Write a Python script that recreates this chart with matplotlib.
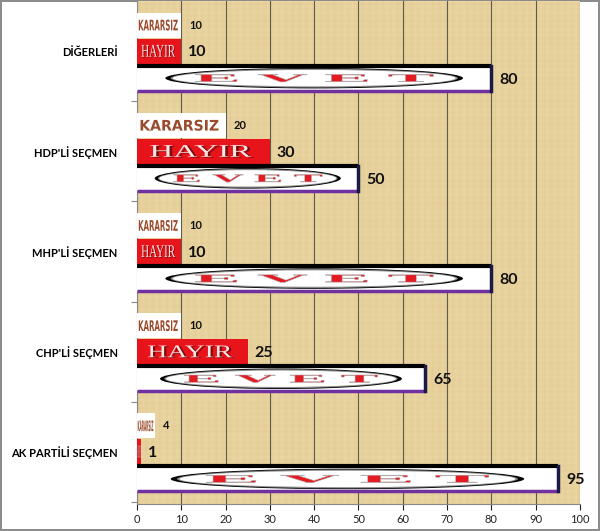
import numpy as np
import matplotlib
matplotlib.use("Agg")
import matplotlib.pyplot as plt
from matplotlib.patches import Rectangle, Ellipse, PathPatch
from matplotlib.textpath import TextPath
from matplotlib.font_manager import FontProperties
from matplotlib.transforms import Affine2D

# data (bottom to top)
categories = ["AK PARTİLİ SEÇMEN", "CHP'Lİ SEÇMEN", "MHP'Lİ SEÇMEN", "HDP'Lİ SEÇMEN", "DİĞERLERİ"]
evet = [95, 65, 80, 50, 80]
hayir = [1, 25, 10, 30, 10]
kararsiz = [4, 10, 10, 20, 10]

plt.rcParams['font.family'] = ['Lato', 'DejaVu Sans']

fig = plt.figure(figsize=(6.0, 5.31), dpi=100)
fig.patch.set_facecolor('white')
fig.patch.set_edgecolor('#8c8c8c')
fig.patch.set_linewidth(1.5)
ax = fig.add_axes([137 / 600, 1 - 504 / 531, 443 / 600, 503 / 531])
ax.set_facecolor('#ecd7a3')

# papyrus-like weave texture behind everything
gx = np.arange(443)
gy = np.arange(503)
vx = (np.sin(gx * 0.9) + 0.6 * np.sin(gx * 2.3 + 1.0) + 0.4 * np.sin(gx * 0.17))
hy = (np.sin(gy * 1.1) + 0.5 * np.sin(gy * 0.31 + 2.0))
tex = 0.6 * vx[None, :] + 0.4 * hy[:, None]
tex = (tex - tex.min()) / (tex.max() - tex.min())
base = np.array([0.925, 0.845, 0.64])
dark = np.array([0.86, 0.76, 0.55])
img = base[None, None, :] * (1 - tex[..., None] * 0.6) + dark[None, None, :] * (tex[..., None] * 0.6)
ax.imshow(img, extent=(0, 100, -0.52, 4.49), aspect='auto', zorder=0, interpolation='bilinear')

sans_b = FontProperties(family='Liberation Sans Narrow', weight='bold')
serif = FontProperties(family='Liberation Serif')
serif_b = FontProperties(family='Liberation Serif', weight='bold')


def fit_text(s, x0, x1, y0, y1, fp, color, ec='none', lw=0, z=4):
    # stretch a text path into a box given in data coords
    tp = TextPath((0, 0), s, size=10, prop=fp)
    bb = tp.get_extents()
    tr = (Affine2D().translate(-bb.x0, -bb.y0)
          .scale((x1 - x0) / bb.width, (y1 - y0) / bb.height)
          .translate(x0, y0))
    ax.add_patch(PathPatch(tr.transform_path(tp), facecolor=color,
                           edgecolor=ec, linewidth=lw, zorder=z))


h = 0.25
y = np.arange(len(categories))

for i in range(len(categories)):
    # KARARSIZ
    yk = y[i] + 0.26
    k = kararsiz[i]
    ax.add_patch(Rectangle((0, yk - h / 2), k, h, facecolor='white', edgecolor='none', zorder=3))
    fit_text("KARARSIZ", 0.04 * k, 0.92 * k, yk - 0.22 * h, yk + 0.22 * h, sans_b, '#9a4b2c')
    ax.annotate(str(k), (k, yk), xytext=(6, 0), textcoords='offset points',
                va='center', ha='left', fontsize=8, fontweight='bold', color='#111111')

    # HAYIR
    yh = y[i]
    v = hayir[i]
    ax.add_patch(Rectangle((0, yh - h / 2), v, h, facecolor='#e8141c', edgecolor='none', zorder=3))
    fit_text("HAYIR", 0.12 * v, 0.88 * v, yh - 0.25 * h, yh + 0.22 * h, serif, '#7a0a0a', z=4)
    fit_text("HAYIR", 0.10 * v, 0.86 * v, yh - 0.22 * h, yh + 0.25 * h, serif, '#fbe6e6', z=5)
    ax.annotate(str(v), (v, yh), xytext=(5, -1), textcoords='offset points',
                va='center', ha='left', fontsize=11.5, fontweight='bold', color='#111111')

    # EVET
    ye = y[i] - 0.27
    e = evet[i]
    ax.add_patch(Rectangle((0, ye - h / 2), e, h, facecolor='white', edgecolor='none', zorder=3))
    ax.plot([0, e], [ye + h / 2, ye + h / 2], color='black', lw=3, zorder=6, solid_capstyle='butt')
    ax.plot([0, e], [ye - h / 2, ye - h / 2], color='#7030a0', lw=2.5, zorder=6, solid_capstyle='butt')
    ax.plot([e, e], [ye - h / 2, ye + h / 2], color='#1a1a4a', lw=2.5, zorder=6)
    cx, W, H = e * 0.5, e * 0.84, h * 0.82
    ax.add_patch(Ellipse((cx, ye), W, H, facecolor='black', edgecolor='none', zorder=4))
    ax.add_patch(Ellipse((cx, ye), W * 0.965, H * 0.92, facecolor='#8a8a8a', edgecolor='none', zorder=4))
    ax.add_patch(Ellipse((cx, ye), W * 0.95, H * 0.8, facecolor='white', edgecolor='none', zorder=4))
    fit_text("E V E T", cx - W * 0.4, cx + W * 0.4, ye - 0.15 * h, ye + 0.15 * h,
             serif_b, '#e31b23', ec='#b0b0b0', lw=0.4, z=5)
    ax.annotate(str(e), (e, ye), xytext=(6, -1), textcoords='offset points',
                va='center', ha='left', fontsize=11.5, fontweight='bold', color='#111111')

ax.set_xlim(0, 100)
ax.set_ylim(-0.52, 4.49)
ax.set_xticks(range(0, 101, 10))
ax.tick_params(axis='x', labelsize=8, colors='#222222', length=4, width=0.8, pad=3)
ax.xaxis.grid(True, color='#5f5c4c', linewidth=0.8)
ax.set_axisbelow(True)
for gl in ax.get_xgridlines():
    gl.set_zorder(1)

ax.set_yticks(y)
ax.set_yticklabels(categories, fontsize=8, fontweight='bold')
ax.tick_params(axis='y', length=0, pad=14)
ax.set_yticks(np.arange(-0.5, len(categories), 1), minor=True)
ax.tick_params(axis='y', which='minor', length=4, width=0.8, color='#888888')

for s in ['top', 'right']:
    ax.spines[s].set_visible(False)
ax.spines['left'].set_color('#888888')
ax.spines['bottom'].set_color('#888888')

fig.savefig('out.png', dpi=100, facecolor=fig.get_facecolor(), edgecolor=fig.get_edgecolor())
